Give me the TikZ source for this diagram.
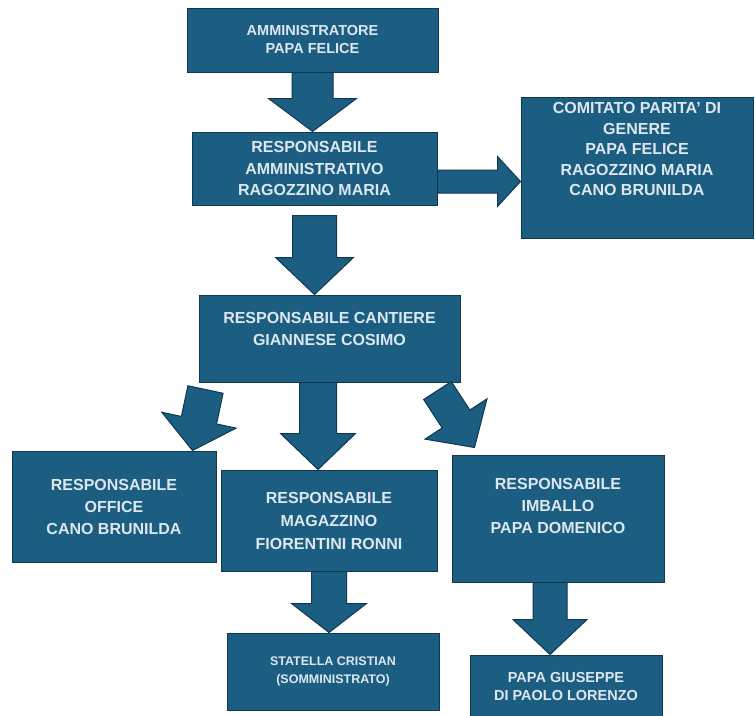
\documentclass[tikz,border=0pt]{standalone}
\usepackage{fontspec}
\setmainfont{Liberation Sans}
\usepackage{tikz}
\usetikzlibrary{calc}

\definecolor{boxfill}{RGB}{27,94,130}
\definecolor{boxline}{RGB}{16,56,80}
\definecolor{boxtext}{RGB}{222,231,237}

\begin{document}
\begin{tikzpicture}[
    x=1pt, y=-1pt,
    box/.style={rectangle, draw=boxline, fill=boxfill, line width=1pt, text=boxtext,
        font=\bfseries\fontsize{16}{22}\selectfont, align=center, inner sep=0pt},
    small text/.style={font=\bfseries\fontsize{14.5}{18}\selectfont},
    fat arrow/.style n args={3}{draw=boxline, fill=boxfill, line width=1pt,
        to path={-- ($(\tikztostart)!#1!90:(\tikztotarget)$)
            -- ($(\tikztotarget)!#3!(\tikztostart)!#1!-90:(\tikztostart)$)
            -- ($(\tikztotarget)!#3!(\tikztostart)!#2!-90:(\tikztostart)$)
            -- (\tikztotarget)
            -- ($(\tikztotarget)!#3!(\tikztostart)!#2!90:(\tikztostart)$)
            -- ($(\tikztotarget)!#3!(\tikztostart)!#1!90:(\tikztostart)$)
            -- ($(\tikztostart)!#1!-90:(\tikztotarget)$) -- cycle}}
]
\useasboundingbox (0,0) rectangle (755,715);

% boxes
\node[box, small text, minimum width=251pt, minimum height=64pt] (admin) at (312.5,40)
    {AMMINISTRATORE\\PAPA FELICE};
\node[box, font=\bfseries\fontsize{16}{21.5}\selectfont, minimum width=245pt, minimum height=73pt] (respamm) at (314.5,168.5)
    {RESPONSABILE\\AMMINISTRATIVO\\RAGOZZINO MARIA};
\node[box, font=\bfseries\fontsize{16}{20.5}\selectfont, minimum width=232pt, minimum height=141pt] (comitato) at (637,167.5)
    {COMITATO PARITA' DI\\GENERE\\PAPA FELICE\\RAGOZZINO MARIA\\CANO BRUNILDA\\[16pt]~};
\node[box, minimum width=261pt, minimum height=87pt] (cantiere) at (329.5,338.5)
    {RESPONSABILE CANTIERE\\GIANNESE COSIMO\\[-3pt]~};
\node[box, minimum width=204pt, minimum height=111pt] (office) at (114,506.5)
    {RESPONSABILE\\OFFICE\\CANO BRUNILDA};
\node[box, font=\bfseries\fontsize{16}{23}\selectfont, minimum width=216pt, minimum height=101pt] (magazzino) at (329,520.5)
    {RESPONSABILE\\MAGAZZINO\\FIORENTINI RONNI};
\node[box, minimum width=212pt, minimum height=127pt] (imballo) at (558,518.5)
    {RESPONSABILE\\IMBALLO\\PAPA DOMENICO\\[3pt]~};
\node[box, font=\bfseries\fontsize{12.5}{18}\selectfont, minimum width=212pt, minimum height=77pt] (statella) at (333,671.5)
    {STATELLA CRISTIAN\\(SOMMINISTRATO)};
\node[box, small text, minimum width=192pt, minimum height=62pt] (giuseppe) at (566,686)
    {PAPA GIUSEPPE\\DI PAOLO LORENZO};

% arrows
\coordinate (bc) at ([yshift=-13pt]respamm.east);
\coordinate (bd) at ([yshift=-10pt]respamm.south);
\coordinate (de) at ([shift={(7pt,-7pt)}]cantiere.south west);
\coordinate (ed) at ([xshift=-24pt]office.north east);
\coordinate (df) at ([xshift=-11pt]magazzino.north);
\coordinate (dg) at ([shift={(-23pt,-8pt)}]cantiere.south east);
\coordinate (gd) at ([shift={(23pt,7pt)}]imballo.north west);
\coordinate (gi) at ([xshift=-8pt]imballo.south);

\draw[fat arrow={20.5pt}{44pt}{33pt}] (admin.south) to (admin.south |- respamm.north);
\draw[fat arrow={11.5pt}{25pt}{23pt}] (bc) to (bc -| comitato.west);
\draw[fat arrow={22pt}{39pt}{37pt}] (bd) to (bd |- cantiere.north);
\draw[fat arrow={18pt}{38pt}{31pt}] (de) to (ed);
\draw[fat arrow={18.5pt}{37.5pt}{36pt}] (df |- cantiere.south) to (df);
\draw[fat arrow={16.5pt}{37pt}{34pt}] (dg) to (gd);
\draw[fat arrow={17.5pt}{37.5pt}{29pt}] (magazzino.south) to (magazzino.south |- statella.north);
\draw[fat arrow={17pt}{37pt}{35pt}] (gi) to (gi |- giuseppe.north);

\end{tikzpicture}
\end{document}
